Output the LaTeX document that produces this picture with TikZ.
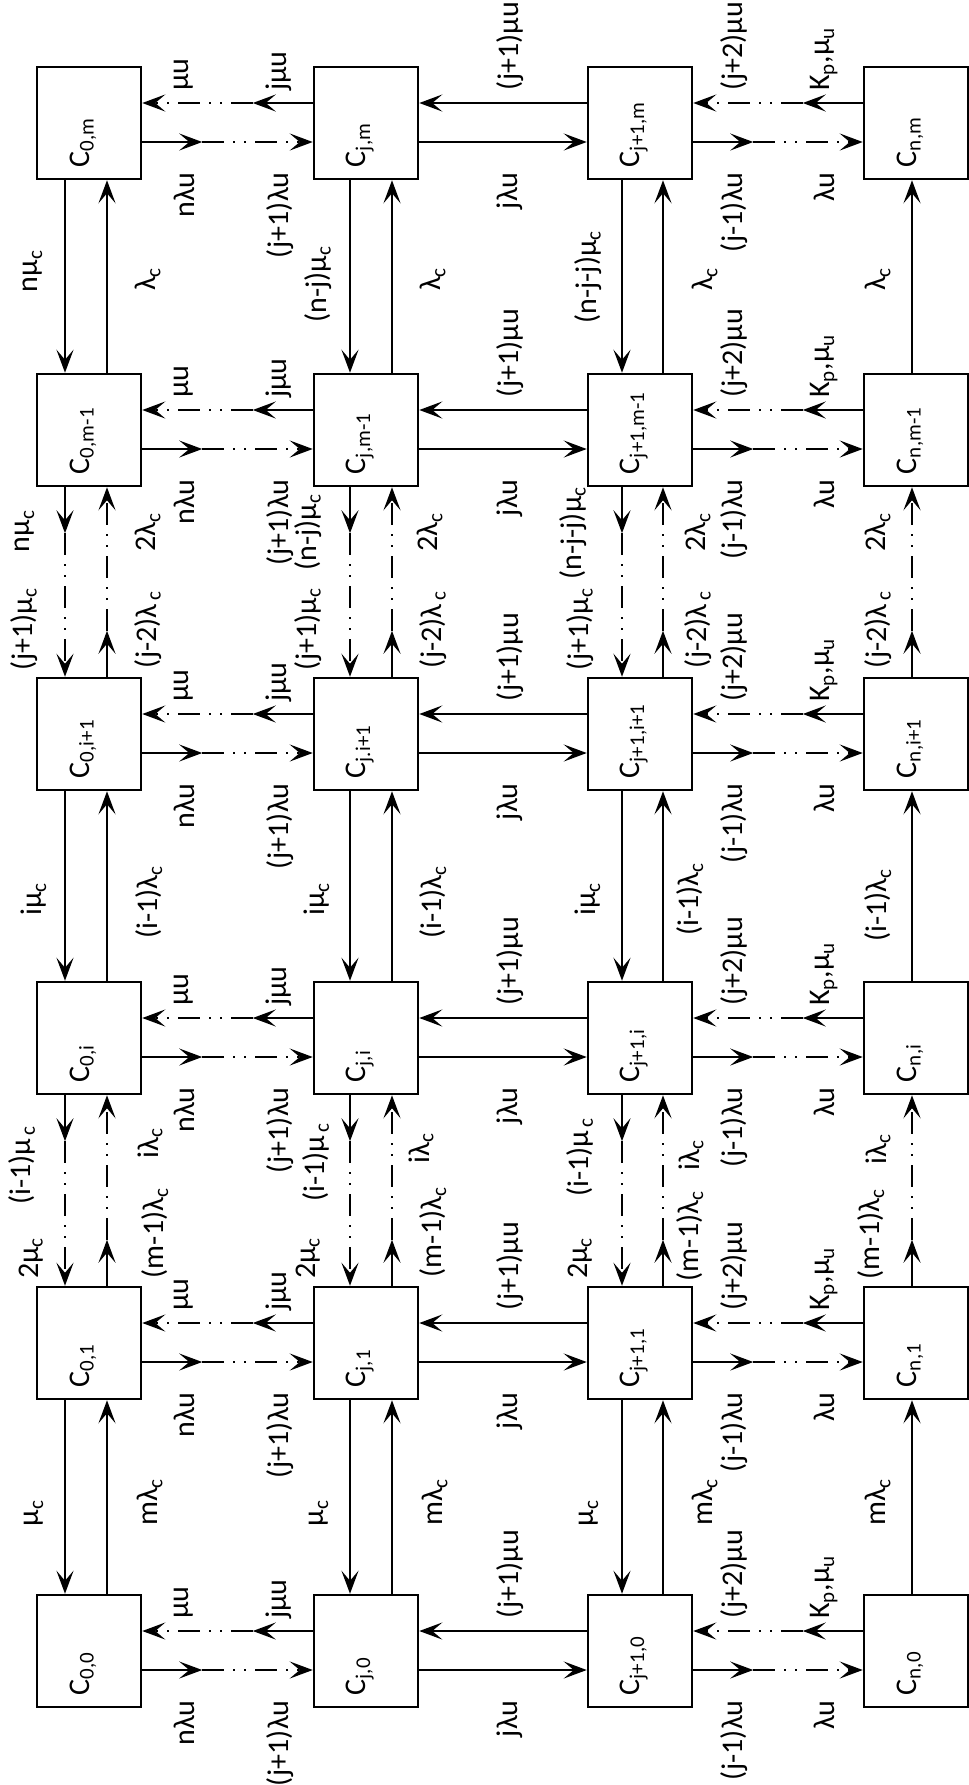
\documentclass[tikz,border=0pt]{standalone}
\usepackage{fontspec}
\setmainfont{Carlito}
\usetikzlibrary{arrows.meta,calc}

\begin{document}
\begin{tikzpicture}[x=0.5pt,y=-0.5pt,line width=1.25pt,
    state/.style={draw,minimum width=52pt,minimum height=56pt,inner sep=0pt},
    statename/.style={rotate=90,anchor=west,inner sep=0pt,font=\fontsize{15}{17}\selectfont},
    rate/.style={rotate=90,inner sep=0pt,font=\fontsize{15}{17}\selectfont},
    ratelow/.style={rate,anchor=east},
    ratehigh/.style={rate,anchor=west},
    arr/.style={-{Stealth[length=11.5pt,width=8.5pt,inset=5pt]}},
    dashdot/.style={dash pattern=on 11pt off 4.5pt on 1pt off 4.5pt on 1pt off 4.5pt}]

\useasboundingbox (0,0) rectangle (969,1785);

% States C_{col,row}
\foreach \cn/\cx/\ck in {0/89/0,j/366/1,j+1/640/2,n/916/3}
  \foreach \rn/\ry/\rk in {m/123/0,m-1/430/1,i+1/734/2,i/1038/3,1/1343/4,0/1651/5} {
    \def\sep{,}
    \ifnum\ck\rk=12 \def\sep{.}\fi
    \node[state] (s\ck\rk) at (\cx,\ry) {};
    \node[statename] (n\ck\rk) at ([xshift=-3pt,yshift=6pt]s\ck\rk.south) {C\textsubscript{\cn\sep\rn}};
  }

% Horizontal rates in each row
\foreach \rk in {0,...,5} {
  % C_0 and C_j: dash-dotted
  \coordinate (p) at ([yshift=10pt]s1\rk.west);
  \coordinate (q) at ([yshift=10pt]s0\rk.east);
  \draw[arr] (p) -- ($(p)!30pt!(q)$);
  \draw[arr,dashdot] ($(p)!30pt!(q)$) -- (q);
  \coordinate (p) at ([yshift=-9.5pt]s0\rk.east);
  \coordinate (q) at ([yshift=-9.5pt]s1\rk.west);
  \draw[arr] (p) -- ($(p)!30pt!(q)$);
  \draw[arr,dashdot] ($(p)!30pt!(q)$) -- (q);
  % C_j and C_j+1: solid
  \draw[arr] ([yshift=10pt]s2\rk.west) -- ([yshift=10pt]s1\rk.east);
  \draw[arr] ([yshift=-9.5pt]s1\rk.east) -- ([yshift=-9.5pt]s2\rk.west);
  % C_j+1 and C_n: dash-dotted
  \coordinate (p) at ([yshift=10pt]s3\rk.west);
  \coordinate (q) at ([yshift=10pt]s2\rk.east);
  \draw[arr] (p) -- ($(p)!30pt!(q)$);
  \draw[arr,dashdot] ($(p)!30pt!(q)$) -- (q);
  \coordinate (p) at ([yshift=-9.5pt]s2\rk.east);
  \coordinate (q) at ([yshift=-9.5pt]s3\rk.west);
  \draw[arr] (p) -- ($(p)!30pt!(q)$);
  \draw[arr,dashdot] ($(p)!30pt!(q)$) -- (q);
}

% Horizontal labels
\foreach \ry/\rk in {123/0,430/1,734/2,1038/3,1343/4,1651/5} {
  \node[ratehigh] (a\rk) at (184,\ry-31) {μu};
  \node[ratehigh] (b\rk) at (279,\ry-31) {jμu};
  \node[ratehigh] (c\rk) at (510,\ry-31) {(j+1)μu};
  \node[ratehigh] (d\rk) at (734,\ry-31) {(j+2)μu};
  \node[ratehigh] (e\rk) at (824,\ry-31) {K\textsubscript{p},μ\textsubscript{u}};
  \node[ratelow] (f\rk) at (184,\ry+48) {nλu};
  \node[ratelow] (g\rk) at (280,\ry+48) {(j+1)λu};
  \node[ratelow] (h\rk) at (510,\ry+48) {jλu};
  \node[ratelow] (k\rk) at (734,\ry+48) {(j-1)λu};
  \node[ratelow] (l\rk) at (824,\ry+48) {λu};
}

% Vertical rates, columns 0, j, j+1
\foreach \ck/\dn/\up in {0/-12/9,1/-8/13,2/-9/11.5} {
  % solid: neighbouring rows
  \foreach \ra/\rb in {0/1,2/3,4/5} {
    \draw[arr] ([xshift=\dn pt]s\ck\ra.south) -- ([xshift=\dn pt]s\ck\rb.north);
    \draw[arr] ([xshift=\up pt]s\ck\rb.north) -- ([xshift=\up pt]s\ck\ra.south);
  }
  % dash-dotted: rows in between left out
  \foreach \ra/\rb in {1/2,3/4} {
    \coordinate (p) at ([xshift=\dn pt]s\ck\ra.south);
    \coordinate (q) at ([xshift=\dn pt]s\ck\rb.north);
    \draw[arr] (p) -- ($(p)!23pt!(q)$);
    \draw[arr,dashdot] ($(p)!23pt!(q)$) -- (q);
    \coordinate (p) at ([xshift=\up pt]s\ck\rb.north);
    \coordinate (q) at ([xshift=\up pt]s\ck\ra.south);
    \draw[arr] (p) -- ($(p)!23pt!(q)$);
    \draw[arr,dashdot] ($(p)!23pt!(q)$) -- (q);
  }
}

% Column n: upward only
\foreach \ra/\rb in {0/1,2/3,4/5}
  \draw[arr] ([xshift=-2pt]s3\rb.north) -- ([xshift=-2pt]s3\ra.south);
\foreach \ra/\rb in {1/2,3/4} {
  \coordinate (p) at ([xshift=-2pt]s3\rb.north);
  \coordinate (q) at ([xshift=-2pt]s3\ra.south);
  \draw[arr] (p) -- ($(p)!23pt!(q)$);
  \draw[arr,dashdot] ($(p)!23pt!(q)$) -- (q);
}

% Vertical labels, rows m and m-1
\node[rate] (v1a) at (33,271) {nμ\textsubscript{c}};
\node[rate] (v1b) at (318,284) {(n-j)μ\textsubscript{c}};
\node[rate] (v1c) at (588,277) {(n-j-j)μ\textsubscript{c}};
\foreach \x [count=\i] in {148,433,705,878}
  \node[rate] (v1l\i) at (\x,279) {λ\textsubscript{c}};

% rows m-1 and i+1
\node[rate] (v2a) at (25,531) {nμ\textsubscript{c}};
\node[rate] (v2b) at (308,532) {(n-j)μ\textsubscript{c}};
\node[rate] (v2c) at (573,533) {(n-j-j)μ\textsubscript{c}};
\foreach \x [count=\i] in {24,308,580}
  \node[rate] (v2m\i) at (\x,629) {(j+1)μ\textsubscript{c}};
\foreach \x [count=\i] in {148,430,698,878}
  \node[rate] (v2l\i) at (\x,532) {2λ\textsubscript{c}};
\foreach \x [count=\i] in {148,433,698,878}
  \node[rate] (v2k\i) at (\x,630) {(j-2)λ\textsubscript{\,c}};

% rows i+1 and i
\foreach \x [count=\i] in {34,317,588}
  \node[rate] (v3m\i) at (\x,899) {iμ\textsubscript{c}};
\foreach \x/\y [count=\i] in {149/902,433/902,690/899,878/905}
  \node[rate] (v3l\i) at (\x,\y) {(i-1)λ\textsubscript{c}};

% rows i and 1
\foreach \x/\y [count=\i] in {22/1165,316/1162,580/1157}
  \node[rate] (v4m\i) at (\x,\y) {(i-1)μ\textsubscript{\,c}};
\foreach \x [count=\i] in {31,308,580}
  \node[rate] (v4n\i) at (\x,1258) {2μ\textsubscript{c}};
\foreach \x/\y [count=\i] in {150/1143,421/1148,691/1155,878/1149}
  \node[rate] (v4l\i) at (\x,\y) {iλ\textsubscript{c}};
\foreach \x/\y [count=\i] in {155/1233,433/1232,690/1236,871/1234}
  \node[rate] (v4k\i) at (\x,\y) {(m-1)λ\textsubscript{c}};

% rows 1 and 0
\foreach \x [count=\i] in {34,319,589}
  \node[rate] (v5m\i) at (\x,1513) {μ\textsubscript{c}};
\foreach \x [count=\i] in {150,435,705,878}
  \node[rate] (v5l\i) at (\x,1502) {mλ\textsubscript{c}};

\end{tikzpicture}
\end{document}
